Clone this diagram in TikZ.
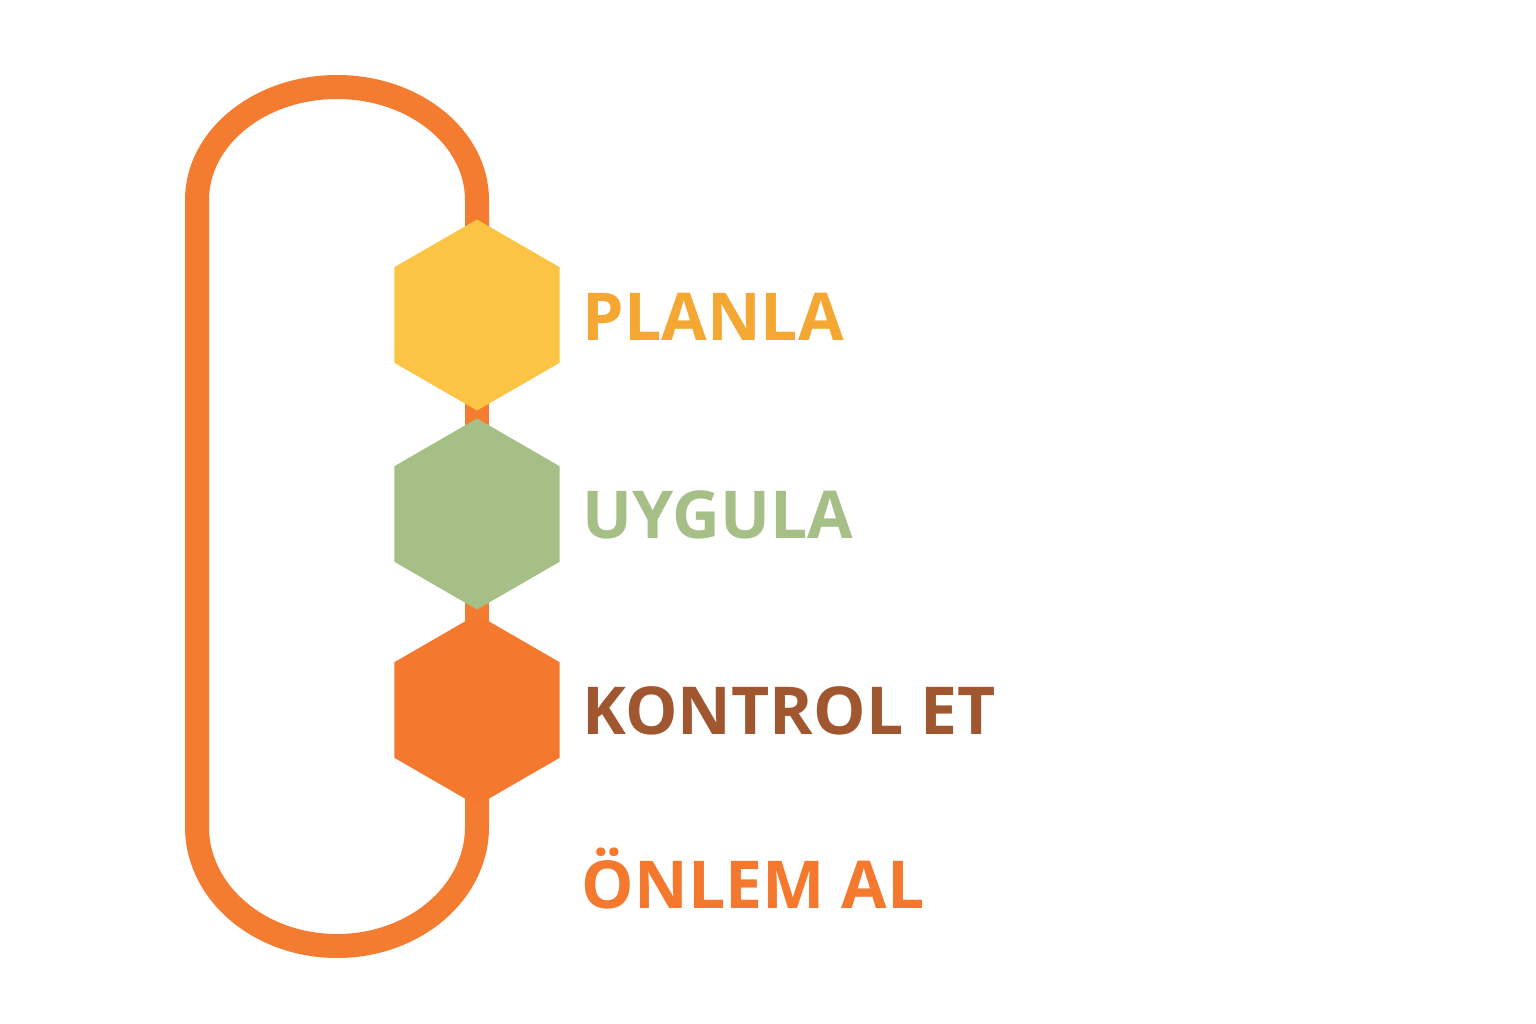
\documentclass[tikz,border=0pt]{standalone}
\usepackage{fontspec}
\setmainfont{Open Sans}
\usetikzlibrary{shapes.geometric,backgrounds,positioning}
\definecolor{loopor}{HTML}{F47C30}
\definecolor{hexyel}{HTML}{FCC444}
\definecolor{hexgrn}{HTML}{A6BF87}
\definecolor{hexor}{HTML}{F4782E}
\definecolor{txtyel}{HTML}{F5A733}
\definecolor{txtbrn}{HTML}{A0562F}

\begin{document}
\begin{tikzpicture}[x=0.1mm,y=-0.1mm,
  hexa/.style={regular polygon,regular polygon sides=6,shape border rotate=30,
    minimum size=1.91cm,inner sep=0pt},
  lbl/.style={anchor=base west,inner sep=0pt,font=\fontsize{18.8}{22}\bfseries},
  ring/.style={draw=loopor,line width=2.4mm}]
\useasboundingbox (0,0) rectangle (1536,1024);

\node[hexa,fill=hexyel] (planh) at (477,315) {};
\node[hexa,fill=hexgrn] (uygh) at (477,514) {};
\node[hexa,fill=hexor] (konh) at (477,710) {};

\node[lbl,text=txtyel] (plan) at (582,341) {PLANLA};
\node[lbl,text=hexgrn] (uyg) at (582,538) {UYGULA};
\node[lbl,text=txtbrn] (kon) at (582,735) {KONTROL ET};
\node[lbl,text=hexor] (onl) at (581,908) {ÖNLEM AL};

\begin{scope}[on background layer]
\draw[ring] (planh.center) -- (477,200) arc[start angle=0,end angle=180,x radius=140,y radius=-113]
  -- (197,827) arc[start angle=180,end angle=360,x radius=140,y radius=-119] -- (konh.center);
\draw[ring] (planh.center) -- (uygh.center) -- (konh.center);
\end{scope}
\end{tikzpicture}
\end{document}
